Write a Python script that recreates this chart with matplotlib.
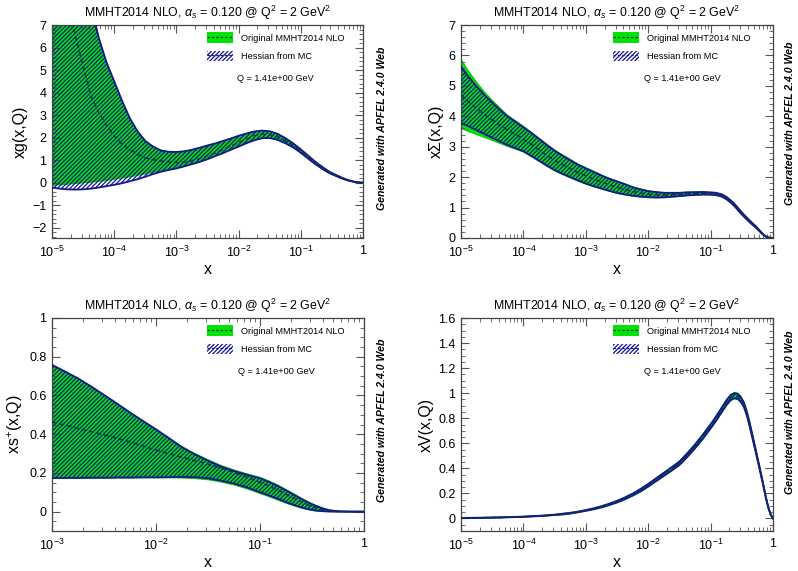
import numpy as np
import matplotlib
matplotlib.use("Agg")
import matplotlib.pyplot as plt
from matplotlib.patches import Patch
from matplotlib.lines import Line2D
from matplotlib.ticker import FuncFormatter, LogLocator, MultipleLocator, NullFormatter

plt.rcParams['font.family'] = ['Liberation Sans', 'DejaVu Sans']
plt.rcParams['mathtext.fontset'] = 'custom'
plt.rcParams['mathtext.rm'] = 'Liberation Sans'
plt.rcParams['mathtext.it'] = 'Liberation Sans:italic'
plt.rcParams['mathtext.bf'] = 'Liberation Sans:bold'
plt.rcParams['hatch.linewidth'] = 0.9

# ---------------- data ----------------
x_grid = [1.00e-5, 1.33e-5, 1.78e-5, 2.37e-5, 3.16e-5, 4.22e-5, 5.62e-5, 7.50e-5,
          1.00e-4, 1.33e-4, 1.78e-4, 2.37e-4, 3.16e-4, 4.22e-4, 5.62e-4, 7.50e-4,
          1.00e-3, 1.33e-3, 1.78e-3, 2.37e-3, 3.16e-3, 4.22e-3, 5.62e-3, 7.50e-3,
          1.00e-2, 1.33e-2, 1.78e-2, 2.37e-2, 3.16e-2, 4.22e-2, 5.62e-2, 7.50e-2,
          0.10, 0.12, 0.15, 0.18, 0.21, 0.24, 0.27, 0.30, 0.34, 0.38, 0.42, 0.47,
          0.52, 0.58, 0.64, 0.70, 0.77, 0.85, 0.92, 1.0]

# gluon  xg(x,Q)
g_central = [12.0, 10.0, 8.3, 6.5, 5.2, 3.85, 3.13, 2.55, 2.07, 1.72, 1.46, 1.26, 1.10, 1.02,
             0.96, 0.92, 0.89, 0.91, 0.97, 1.07, 1.19, 1.32, 1.47, 1.63, 1.78, 1.94, 2.08,
             2.15, 2.13, 2.03, 1.86, 1.66,
             1.40, 1.22, 1.00, 0.83, 0.70, 0.59, 0.50, 0.43, 0.36, 0.30, 0.245, 0.19,
             0.145, 0.10, 0.07, 0.045, 0.022, 0.008, 0.002, 0.0]
g_orig_hi = [22.0, 17.5, 14.0, 11.2, 9.0, 7.9, 6.45, 5.35, 4.5, 3.65, 2.86, 2.28, 1.85, 1.60,
             1.43, 1.37, 1.36, 1.39, 1.46, 1.55, 1.65, 1.74, 1.85, 1.96, 2.08, 2.18, 2.27,
             2.31, 2.28, 2.17, 1.98, 1.75,
             1.475, 1.29, 1.06, 0.88, 0.745, 0.63, 0.535, 0.46, 0.387, 0.324, 0.265, 0.207,
             0.159, 0.111, 0.078, 0.051, 0.026, 0.010, 0.003, 0.0]
g_orig_lo = [-0.12, -0.10, -0.07, -0.04, -0.01, 0.02, 0.06, 0.10, 0.15, 0.20, 0.26, 0.32, 0.39,
             0.46, 0.52, 0.58, 0.64, 0.72, 0.82, 0.92, 1.04, 1.18, 1.31, 1.46, 1.60, 1.75, 1.88,
             1.97, 1.98, 1.90, 1.75, 1.57,
             1.325, 1.15, 0.94, 0.78, 0.655, 0.55, 0.465, 0.40, 0.333, 0.276, 0.225, 0.173,
             0.131, 0.089, 0.062, 0.039, 0.018, 0.006, 0.001, 0.0]
g_mc_hi = [22.0, 17.5, 14.0, 11.2, 9.0, 7.9, 6.45, 5.35, 4.5, 3.65, 2.86, 2.28, 1.85, 1.60,
           1.43, 1.37, 1.36, 1.39, 1.46, 1.55, 1.65, 1.74, 1.85, 1.96, 2.08, 2.18, 2.27,
           2.31, 2.28, 2.17, 1.98, 1.75,
           1.475, 1.29, 1.06, 0.88, 0.745, 0.63, 0.535, 0.46, 0.387, 0.324, 0.265, 0.207,
           0.159, 0.111, 0.078, 0.051, 0.026, 0.010, 0.003, 0.0]
g_mc_lo = [-0.22, -0.27, -0.30, -0.31, -0.30, -0.27, -0.22, -0.16, -0.10, -0.03, 0.06, 0.15, 0.26,
           0.38, 0.48, 0.56, 0.63, 0.72, 0.82, 0.92, 1.04, 1.18, 1.31, 1.46, 1.60, 1.75, 1.88,
           1.97, 1.98, 1.90, 1.75, 1.57,
           1.325, 1.15, 0.94, 0.78, 0.655, 0.55, 0.465, 0.40, 0.333, 0.276, 0.225, 0.173,
           0.131, 0.089, 0.062, 0.039, 0.018, 0.006, 0.001, 0.0]

# singlet  xSigma(x,Q)
s_central = [4.70, 4.47, 4.26, 4.06, 3.88, 3.71, 3.55, 3.40, 3.25, 3.08, 2.90, 2.72, 2.55, 2.41,
             2.28, 2.15, 2.04, 1.94, 1.84, 1.75, 1.67, 1.60, 1.53, 1.48, 1.44, 1.42, 1.41, 1.42,
             1.43, 1.45, 1.46, 1.47,
             1.46, 1.45, 1.40, 1.31, 1.20, 1.09, 0.97, 0.86, 0.74, 0.64, 0.55, 0.46,
             0.38, 0.28, 0.19, 0.11, 0.05, 0.015, 0.004, 0.0]
s_orig_hi = [5.87, 5.47, 5.12, 4.80, 4.53, 4.27, 4.03, 3.85, 3.67, 3.48, 3.28, 3.08, 2.89, 2.73,
             2.58, 2.43, 2.31, 2.19, 2.07, 1.96, 1.87, 1.78, 1.68, 1.61, 1.55, 1.515, 1.49, 1.49,
             1.49, 1.505, 1.51, 1.515,
             1.50, 1.49, 1.44, 1.35, 1.24, 1.13, 1.01, 0.90, 0.775, 0.675, 0.58, 0.49,
             0.405, 0.30, 0.205, 0.12, 0.056, 0.018, 0.005, 0.0]
s_orig_lo = [3.60, 3.50, 3.40, 3.31, 3.21, 3.11, 3.01, 2.92, 2.83, 2.68, 2.52, 2.36, 2.21, 2.09,
             1.98, 1.87, 1.77, 1.69, 1.61, 1.54, 1.47, 1.42, 1.38, 1.35, 1.33, 1.325, 1.33, 1.35,
             1.37, 1.395, 1.41, 1.425,
             1.42, 1.41, 1.36, 1.27, 1.16, 1.05, 0.93, 0.82, 0.705, 0.605, 0.52, 0.43,
             0.355, 0.26, 0.175, 0.10, 0.044, 0.012, 0.003, 0.0]
s_mc_hi = [5.63, 5.29, 4.98, 4.70, 4.45, 4.21, 3.99, 3.82, 3.64, 3.46, 3.26, 3.06, 2.87, 2.71,
           2.56, 2.41, 2.29, 2.175, 2.055, 1.95, 1.86, 1.77, 1.67, 1.60, 1.54, 1.51, 1.485,
           1.485, 1.485, 1.50, 1.507, 1.512,
           1.498, 1.488, 1.438, 1.348, 1.238, 1.128, 1.008, 0.898, 0.773, 0.673, 0.578, 0.488,
           0.404, 0.299, 0.204, 0.119, 0.055, 0.018, 0.005, 0.0]
s_mc_lo = [3.77, 3.67, 3.54, 3.42, 3.29, 3.17, 3.05, 2.95, 2.85, 2.70, 2.54, 2.38, 2.23, 2.11,
           2.00, 1.89, 1.79, 1.705, 1.625, 1.55, 1.48, 1.43, 1.39, 1.36, 1.34, 1.33, 1.335,
           1.355, 1.375, 1.40, 1.413, 1.428,
           1.422, 1.412, 1.362, 1.272, 1.162, 1.052, 0.932, 0.822, 0.707, 0.607, 0.522, 0.432,
           0.356, 0.261, 0.176, 0.101, 0.045, 0.012, 0.003, 0.0]

# strange  xs+(x,Q)   (x >= 1e-3)
x_strange = [1.00e-3, 1.33e-3, 1.78e-3, 2.37e-3, 3.16e-3, 4.22e-3, 5.62e-3, 7.50e-3,
             1.00e-2, 1.33e-2, 1.78e-2, 2.37e-2, 3.16e-2, 4.22e-2, 5.62e-2, 7.50e-2,
             0.10, 0.12, 0.15, 0.18, 0.21, 0.24, 0.27, 0.30, 0.34, 0.38, 0.42, 0.47,
             0.52, 0.58, 0.64, 0.70, 0.77, 0.85, 0.92, 1.0]
sp_central = [0.462, 0.447, 0.430, 0.413, 0.396, 0.379, 0.360, 0.339, 0.318, 0.299, 0.281,
              0.263, 0.246, 0.225, 0.203, 0.178,
              0.152, 0.134, 0.110, 0.088, 0.070, 0.055, 0.042, 0.031, 0.020, 0.012, 0.007,
              0.003, 0.0015, 0.0005, 0.0, 0.0, 0.0, 0.0, 0.0, 0.0]
sp_orig_hi = [0.758, 0.724, 0.688, 0.647, 0.603, 0.558, 0.512, 0.468, 0.425, 0.380, 0.336,
              0.300, 0.268, 0.238, 0.215, 0.195,
              0.177, 0.160, 0.136, 0.113, 0.093, 0.075, 0.060, 0.047, 0.034, 0.023, 0.015,
              0.008, 0.004, 0.002, 0.001, 0.0005, 0.0, 0.0, 0.0, 0.0]
sp_orig_lo = [0.172, 0.172, 0.172, 0.173, 0.173, 0.174, 0.174, 0.175, 0.175, 0.175, 0.174,
              0.171, 0.165, 0.153, 0.138, 0.118,
              0.094, 0.079, 0.059, 0.043, 0.031, 0.021, 0.014, 0.009, 0.004, 0.002, 0.001,
              0.0, 0.0, 0.0, 0.0, 0.0, 0.0, 0.0, 0.0, 0.0]
sp_mc_hi = [0.758, 0.724, 0.688, 0.647, 0.603, 0.558, 0.512, 0.468, 0.425, 0.380, 0.332,
            0.295, 0.263, 0.233, 0.210, 0.190,
            0.172, 0.155, 0.131, 0.108, 0.088, 0.071, 0.056, 0.044, 0.031, 0.021, 0.013,
            0.007, 0.004, 0.002, 0.001, 0.0005, 0.0, 0.0, 0.0, 0.0]
sp_mc_lo = [0.174, 0.174, 0.174, 0.175, 0.175, 0.176, 0.176, 0.177, 0.177, 0.178, 0.179,
            0.178, 0.172, 0.160, 0.145, 0.125,
            0.100, 0.085, 0.065, 0.048, 0.035, 0.025, 0.017, 0.011, 0.006, 0.003, 0.0015,
            0.0005, 0.0, 0.0, 0.0, 0.0, 0.0, 0.0, 0.0, 0.0]

# valence  xV(x,Q): central value and half-widths of the two bands
v_central = [0.003, 0.004, 0.005, 0.006, 0.007, 0.008, 0.010, 0.012, 0.014, 0.017, 0.020,
             0.024, 0.029, 0.035, 0.042, 0.052, 0.064, 0.077, 0.093, 0.112, 0.134, 0.160,
             0.190, 0.225, 0.265, 0.308, 0.352, 0.395, 0.440, 0.505, 0.575, 0.652,
             0.735, 0.790, 0.865, 0.925, 0.965, 0.980, 0.975, 0.955, 0.910, 0.840, 0.755,
             0.650, 0.555, 0.450, 0.355, 0.265, 0.165, 0.080, 0.030, 0.0]
v_orig_hw = [0.001, 0.001, 0.001, 0.001, 0.001, 0.001, 0.001, 0.001, 0.001, 0.002, 0.002,
             0.002, 0.002, 0.004, 0.004, 0.004, 0.004, 0.005, 0.006, 0.007, 0.008, 0.009,
             0.010, 0.012, 0.013, 0.014, 0.015, 0.016, 0.017, 0.018, 0.019, 0.020,
             0.020, 0.021, 0.022, 0.024, 0.025, 0.025, 0.025, 0.024, 0.022, 0.020, 0.019,
             0.017, 0.015, 0.013, 0.011, 0.009, 0.007, 0.004, 0.002, 0.0]
v_mc_hw = [0.001, 0.001, 0.001, 0.001, 0.001, 0.001, 0.001, 0.001, 0.001, 0.0015, 0.0015,
           0.0015, 0.0015, 0.003, 0.003, 0.003, 0.003, 0.004, 0.005, 0.0055, 0.0065, 0.007,
           0.008, 0.0095, 0.0105, 0.011, 0.012, 0.013, 0.0135, 0.0145, 0.015, 0.016,
           0.016, 0.017, 0.018, 0.019, 0.020, 0.020, 0.020, 0.019, 0.018, 0.016, 0.015,
           0.014, 0.012, 0.010, 0.009, 0.007, 0.0055, 0.003, 0.0015, 0.0]

title_text = r"MMHT2014 NLO, $\alpha_{s}$ = 0.120 @ Q$^{2}$ = 2 GeV$^{2}$"
legend_labels = ["Original MMHT2014 NLO", "Hessian from MC"]
q_text = "Q = 1.41e+00 GeV"
side_text = "Generated with APFEL 2.4.0 Web"

# ---------------- styling ----------------
GREEN = '#00e400'
GREEN_EDGE = '#00c800'
BLUE = '#16168f'
DASH = '#0d3552'

W, H = 798, 571
fig = plt.figure(figsize=(W / 100, H / 100), dpi=100)


def ax_at(l, t, r, b):
    return fig.add_axes([l / W, 1 - b / H, (r - l) / W, (b - t) / H])


vc = np.array(v_central)
panels = [
    dict(box=(52, 25, 363, 238), x=x_grid, c=g_central, ohi=g_orig_hi, olo=g_orig_lo,
         mhi=g_mc_hi, mlo=g_mc_lo, xlim=(1e-5, 1), ylim=(-2.46, 7), ymaj=1, ymin=0.2,
         ylabel="xg(x,Q)", side_x=381.7, side_y=128, legx=0.498),
    dict(box=(461, 25, 773, 238), x=x_grid, c=s_central, ohi=s_orig_hi, olo=s_orig_lo,
         mhi=s_mc_hi, mlo=s_mc_lo, xlim=(1e-5, 1), ylim=(0, 7), ymaj=1, ymin=0.2,
         ylabel="x\u03a3(x,Q)", side_x=790, side_y=123, legx=0.488),
    dict(box=(52, 318, 364, 531), x=x_strange, c=sp_central, ohi=sp_orig_hi, olo=sp_orig_lo,
         mhi=sp_mc_hi, mlo=sp_mc_lo, xlim=(1e-3, 1), ylim=(-0.1, 1), ymaj=0.2, ymin=0.05,
         ylabel="xs$^{+}$(x,Q)", side_x=381.7, side_y=420, legx=0.497),
    dict(box=(461, 318, 773, 531), x=x_grid, c=v_central,
         ohi=vc + np.array(v_orig_hw), olo=vc - np.array(v_orig_hw),
         mhi=vc + np.array(v_mc_hw), mlo=vc - np.array(v_mc_hw),
         xlim=(1e-5, 1), ylim=(-0.1, 1.6), ymaj=0.2, ymin=0.05,
         ylabel="xV(x,Q)", side_x=790, side_y=412, legx=0.488),
]


def xfmt(v, pos):
    if abs(v - 1) < 1e-9:
        return "1"
    e = int(round(np.log10(v)))
    return r"$10^{%d}$" % e


def yfmt(v, pos):
    if abs(v) < 1e-9:
        return "0"
    s = ("%g" % round(v, 6))
    return s.replace("-", "\u2212")


for p in panels:
    ax = ax_at(*p['box'])
    x = np.array(p['x'])
    ax.fill_between(x, p['olo'], p['ohi'], facecolor=GREEN, edgecolor='none', lw=0, zorder=1)
    ax.plot(x, p['ohi'], color=GREEN_EDGE, lw=0.8, zorder=1.5)
    ax.plot(x, p['olo'], color=GREEN_EDGE, lw=0.8, zorder=1.5)
    ax.fill_between(x, p['mlo'], p['mhi'], facecolor='none', edgecolor=BLUE, hatch='////////',
                    lw=0, zorder=2)
    ax.plot(x, p['mhi'], color=BLUE, lw=1.3, zorder=3)
    ax.plot(x, p['mlo'], color=BLUE, lw=1.3, zorder=3)
    ax.plot(x, p['c'], color=DASH, lw=1.1, ls=(0, (3, 2)), zorder=4)

    ax.set_xscale('log')
    ax.set_xlim(*p['xlim'])
    ax.set_ylim(*p['ylim'])
    ax.xaxis.set_major_locator(LogLocator(base=10, numticks=10))
    ax.xaxis.set_minor_locator(LogLocator(base=10, subs=np.arange(2, 10), numticks=20))
    ax.xaxis.set_major_formatter(FuncFormatter(xfmt))
    ax.xaxis.set_minor_formatter(NullFormatter())
    ax.yaxis.set_major_locator(MultipleLocator(p['ymaj']))
    ax.yaxis.set_minor_locator(MultipleLocator(p['ymin']))
    ax.yaxis.set_major_formatter(FuncFormatter(yfmt))
    ax.tick_params(which='both', direction='in', top=True, right=True, color='#555555')
    ax.tick_params(which='major', length=6, width=0.8, labelsize=9, pad=4)
    ax.tick_params(which='minor', length=3, width=0.6)
    ax.tick_params(axis='x', which='major', pad=5)
    for sp in ax.spines.values():
        sp.set_linewidth(0.9)
        sp.set_color('#444444')

    ax.set_title(title_text, fontsize=8.9, pad=6)
    ax.set_xlabel("x", fontsize=11.5, labelpad=1)
    ax.set_ylabel(p['ylabel'], fontsize=11.5, labelpad=3)

    h1 = (Patch(facecolor=GREEN, edgecolor='none'),
          Line2D([], [], color=DASH, lw=0.9, ls=(0, (2, 1.5))))
    h2 = (Patch(facecolor='none', edgecolor=BLUE, hatch='////////', lw=0),
          Line2D([], [], color=BLUE, lw=0.9, ls=(0, (2, 1.5))))
    ax.legend([h1, h2], legend_labels, loc='upper left', bbox_to_anchor=(p['legx'], 0.965),
              frameon=False, fontsize=6.6, handlelength=2.8, handleheight=1.4,
              handletextpad=0.9, labelspacing=0.85, borderpad=0, borderaxespad=0)
    ax.text(p['legx'] + 0.098, 0.747, q_text, transform=ax.transAxes, fontsize=6.6,
            ha='left', va='center')
    fig.text(p['side_x'] / W, 1 - p['side_y'] / H, side_text, rotation=90,
             fontsize=7.6, fontweight='bold', fontstyle='italic', ha='center', va='center')

fig.savefig("out.png", dpi=100)
